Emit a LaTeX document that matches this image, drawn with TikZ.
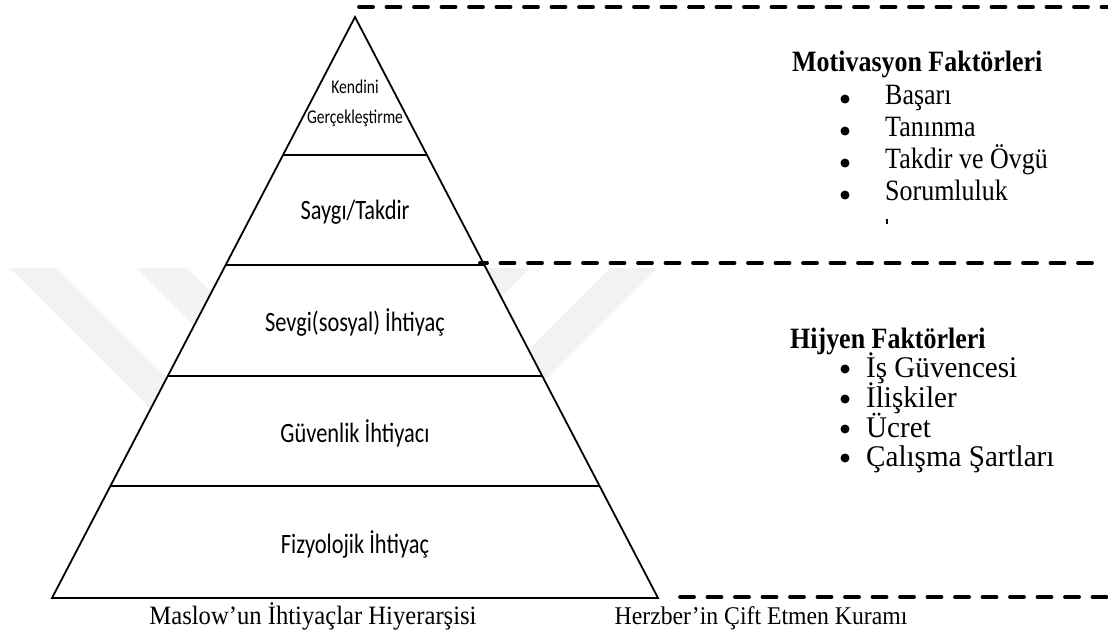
\documentclass[tikz,border=0pt]{standalone}
\usepackage{fontspec}
\setmainfont{Liberation Serif}
\newfontfamily\serifN[FakeStretch=0.88]{Liberation Serif}
\newfontfamily\serifH[FakeStretch=0.97]{Liberation Serif}
\newfontfamily\serifC[FakeStretch=0.93]{Liberation Serif}
\newfontfamily\calibN[FakeStretch=0.8]{Carlito}
\begin{document}
\begin{tikzpicture}[x=1pt,y=-1pt,
  pyr/.style={line width=1.8pt, line join=miter},
  bandline/.style={line width=1.8pt},
  dashln/.style={line width=3.8pt, dash pattern=on 14pt off 13.5pt, line cap=round},
  wm/.style={fill=black!5, draw=none},
  plabel/.style={font=\calibN\fontsize{28}{32}\selectfont, inner sep=0pt},
  toplabel/.style={font=\calibN\fontsize{19.5}{22}\selectfont, inner sep=0pt},
  ttl/.style={font=\serifN\bfseries\fontsize{29.5}{32}\selectfont, anchor=base west, inner sep=0pt},
  mitem/.style={font=\serifN\fontsize{29.5}{32}\selectfont, anchor=base west, inner sep=0pt},
  hitem/.style={font=\serifH\fontsize{30}{32}\selectfont, anchor=base west, inner sep=0pt},
  bul/.style={circle, fill=black, minimum size=9pt, inner sep=0pt},
  capt/.style={font=\serifC\fontsize{25.5}{28}\selectfont, inner sep=0pt, anchor=base}
]
\useasboundingbox (0,0) rectangle (1108,635);
\fill[white] (0,0) rectangle (1108,635);

% faint watermark bands
\fill[wm] (10,268) -- (57,268) -- (357,568) -- (310,568) -- cycle;
\fill[wm] (137,268) -- (187,268) -- (487,568) -- (437,568) -- cycle;
\fill[wm] (610,268) -- (657,268) -- (357,568) -- (310,568) -- cycle;
\fill[wm] (480,268) -- (530,268) -- (230,568) -- (180,568) -- cycle;

% pyramid geometry
\coordinate (apex) at (355,17);
\coordinate (L1) at (283,155); \coordinate (R1) at (427,155);
\coordinate (L2) at (225,265); \coordinate (R2) at (485,265);
\coordinate (L3) at (168,376); \coordinate (R3) at (542,376);
\coordinate (L4) at (110,486); \coordinate (R4) at (600,486);
\coordinate (BL) at (52,598);  \coordinate (BR) at (658,598);

\fill[white] (apex) -- (BR) -- (BL) -- cycle;
\draw[bandline] (L1) -- (R1);
\draw[bandline] (L2) -- (R2);
\draw[bandline] (L3) -- (R3);
\draw[bandline] (L4) -- (R4);
\draw[pyr] (apex) -- (BR) -- (BL) -- cycle;

% dashed separators
\coordinate (t0) at (359,7);   \coordinate (t1) at (1110,7);
\coordinate (m0) at (480,263); \coordinate (m1) at (1100,263);
\coordinate (b0) at (680,597); \coordinate (b1) at (1110,597);
\draw[dashln] (t0) -- (t1);
\draw[dashln, dash phase=7pt] (m0) -- (m1);
\draw[dashln] (b0) -- (b1);

% pyramid labels
\node[toplabel] (k1) at (355,87) {Kendini};
\node[toplabel] (k2) at (355,118) {Gerçekleştirme};
\node[plabel] (s1) at (355,212) {Saygı/Takdir};
\node[plabel] (s2) at (355,322) {Sevgi(sosyal) İhtiyaç};
\node[plabel] (s3) at (355,433) {Güvenlik İhtiyacı};
\node[plabel] (s4) at (355,544) {Fizyolojik İhtiyaç};

% motivation factors
\node[ttl] (mt) at (792,71) {Motivasyon Faktörleri};
\node[bul] (mb1) at (845,99) {};  \node[mitem] (m1t) at (885,104) {Başarı};
\node[bul] (mb2) at (845,131) {}; \node[mitem] (m2t) at (885,136) {Tanınma};
\node[bul] (mb3) at (845,163) {}; \node[mitem] (m3t) at (885,168) {Takdir ve Övgü};
\node[bul] (mb4) at (845,195) {}; \node[mitem] (m4t) at (885,200) {Sorumluluk};
\fill (886,219) rectangle (888,224);

% hygiene factors
\node[ttl] (ht) at (790,348) {Hijyen Faktörleri};
\node[bul] (hb1) at (845,369) {}; \node[hitem] (h1t) at (866,377) {İş Güvencesi};
\node[bul] (hb2) at (845,399) {}; \node[hitem] (h2t) at (866,407) {İlişkiler};
\node[bul] (hb3) at (845,429) {}; \node[hitem] (h3t) at (866,437) {Ücret};
\node[bul] (hb4) at (845,458) {}; \node[hitem] (h4t) at (866,466) {Çalışma Şartları};

% captions
\node[capt, font=\serifC\fontsize{26.5}{28}\selectfont] (c1) at (313,624) {Maslow’un İhtiyaçlar Hiyerarşisi};
\node[capt] (c2) at (761,624) {Herzber’in Çift Etmen Kuramı};
\end{tikzpicture}
\end{document}
